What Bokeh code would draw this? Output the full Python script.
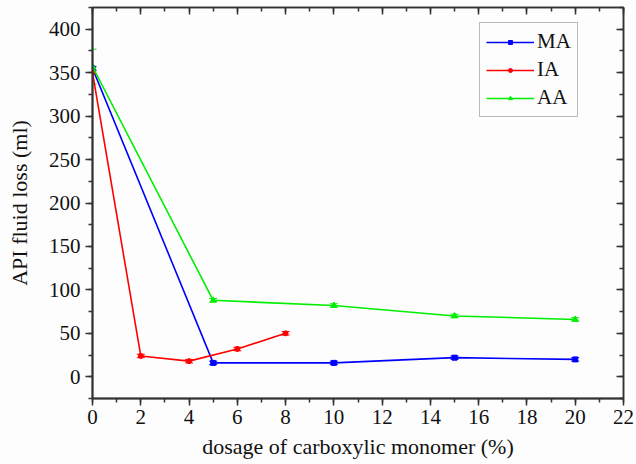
from bokeh.plotting import figure
from bokeh.models import Range1d, LinearAxis, Legend, LegendItem, Whisker, ColumnDataSource, SingleIntervalTicker, CustomJSTickFormatter
from bokeh.embed import file_html
from bokeh.resources import INLINE

x_ma = [0, 5, 10, 15, 20]
y_ma = [355, 16, 16, 22, 20]
x_ia = [0, 2, 4, 6, 8]
y_ia = [350, 24, 18, 32, 50]
x_aa = [0, 5, 10, 15, 20]
y_aa = [357, 88, 82, 70, 66]
err_aa = [20, 2, 2, 2, 2]
err_ma = [2, 2, 2, 2, 2]
err_ia = [2, 2, 2, 2, 2]

FONT = "Liberation Serif"

p = figure(width=636, height=464, output_backend="svg", toolbar_location=None,
           x_range=Range1d(0, 22), y_range=Range1d(-25, 425),
           min_border_left=92, min_border_right=13, min_border_top=7, min_border_bottom=66,
           background_fill_color="#fdfdfd", border_fill_color="#fdfdfd")
p.grid.visible = False
p.outline_line_color = "#333333"
p.outline_line_width = 1.5

p.xaxis.ticker = SingleIntervalTicker(interval=2, num_minor_ticks=2)
p.yaxis.ticker = SingleIntervalTicker(interval=50, num_minor_ticks=2)
for ax in [p.xaxis[0], p.yaxis[0]]:
    ax.axis_line_color = "#333333"
    ax.axis_line_width = 2
    ax.major_tick_line_color = "#333333"
    ax.minor_tick_line_color = "#333333"
    ax.major_tick_line_width = 1.5
    ax.minor_tick_line_width = 1.5
    ax.major_tick_out = 7
    ax.major_tick_in = 0
    ax.minor_tick_out = 4
    ax.minor_tick_in = 0
    ax.major_label_text_font = FONT
    ax.major_label_text_font_size = "21px"
    ax.major_label_text_color = "#111111"
    ax.axis_label_text_font = FONT
    ax.axis_label_text_font_size = "22px"
    ax.axis_label_text_font_style = "normal"
    ax.axis_label_text_color = "#111111"
p.xaxis.axis_label = "dosage of carboxylic monomer (%)"
p.yaxis.axis_label = "API fluid loss (ml)"
p.xaxis.axis_label_standoff = 7
p.yaxis.axis_label_standoff = 14
p.xaxis.major_label_standoff = 4
p.yaxis.major_label_standoff = 5

top = LinearAxis(ticker=SingleIntervalTicker(interval=2, num_minor_ticks=2), formatter=CustomJSTickFormatter(code="return ''"))
right = LinearAxis(ticker=SingleIntervalTicker(interval=50, num_minor_ticks=2), formatter=CustomJSTickFormatter(code="return ''"))
for ax in [top, right]:
    ax.axis_line_color = "#333333"
    ax.axis_line_width = 1.5
    ax.major_tick_line_color = "#333333"
    ax.minor_tick_line_color = "#333333"
    ax.major_tick_line_width = 1.5
    ax.minor_tick_line_width = 1.5
    ax.major_tick_out = 0
    ax.major_tick_in = 7
    ax.minor_tick_out = 0
    ax.minor_tick_in = 4
    ax.major_label_standoff = 0
p.add_layout(top, "above")
p.add_layout(right, "right")

def series(xs, ys, errs, color, marker, size):
    src = ColumnDataSource(dict(x=xs, y=ys, lo=[a - b for a, b in zip(ys, errs)], hi=[a + b for a, b in zip(ys, errs)]))
    l = p.line("x", "y", source=src, line_color=color, line_width=1.6)
    m = p.scatter("x", "y", source=src, marker=marker, size=size, fill_color=color, line_color=color)
    w = Whisker(base="x", lower="lo", upper="hi", source=src, line_color=color, line_width=1)
    w.upper_head.size = 8
    w.lower_head.size = 8
    w.upper_head.line_color = color
    w.lower_head.line_color = color
    p.add_layout(w)
    return [l, m]

r_ma = series(x_ma, y_ma, err_ma, "#0000ff", "square", 5)
r_ia = series(x_ia, y_ia, err_ia, "#ff0000", "circle", 5)
r_aa = series(x_aa, y_aa, err_aa, "#00ee00", "triangle", 6)

legend = Legend(items=[LegendItem(label="MA", renderers=r_ma),
                       LegendItem(label="IA", renderers=r_ia),
                       LegendItem(label="AA", renderers=r_aa)],
                location=(387, 281))
legend.label_text_font = FONT
legend.label_text_font_size = "21px"
legend.label_text_color = "#111111"
legend.glyph_width = 48
legend.glyph_height = 10
legend.label_height = 22
legend.spacing = 3
legend.padding = 6
legend.margin = 0
legend.label_standoff = 3
legend.border_line_color = "#777777"
legend.border_line_width = 1.5
legend.background_fill_color = "#fdfdfd"
p.add_layout(legend, "center")

open("out.html", "w").write(file_html(p, INLINE))
